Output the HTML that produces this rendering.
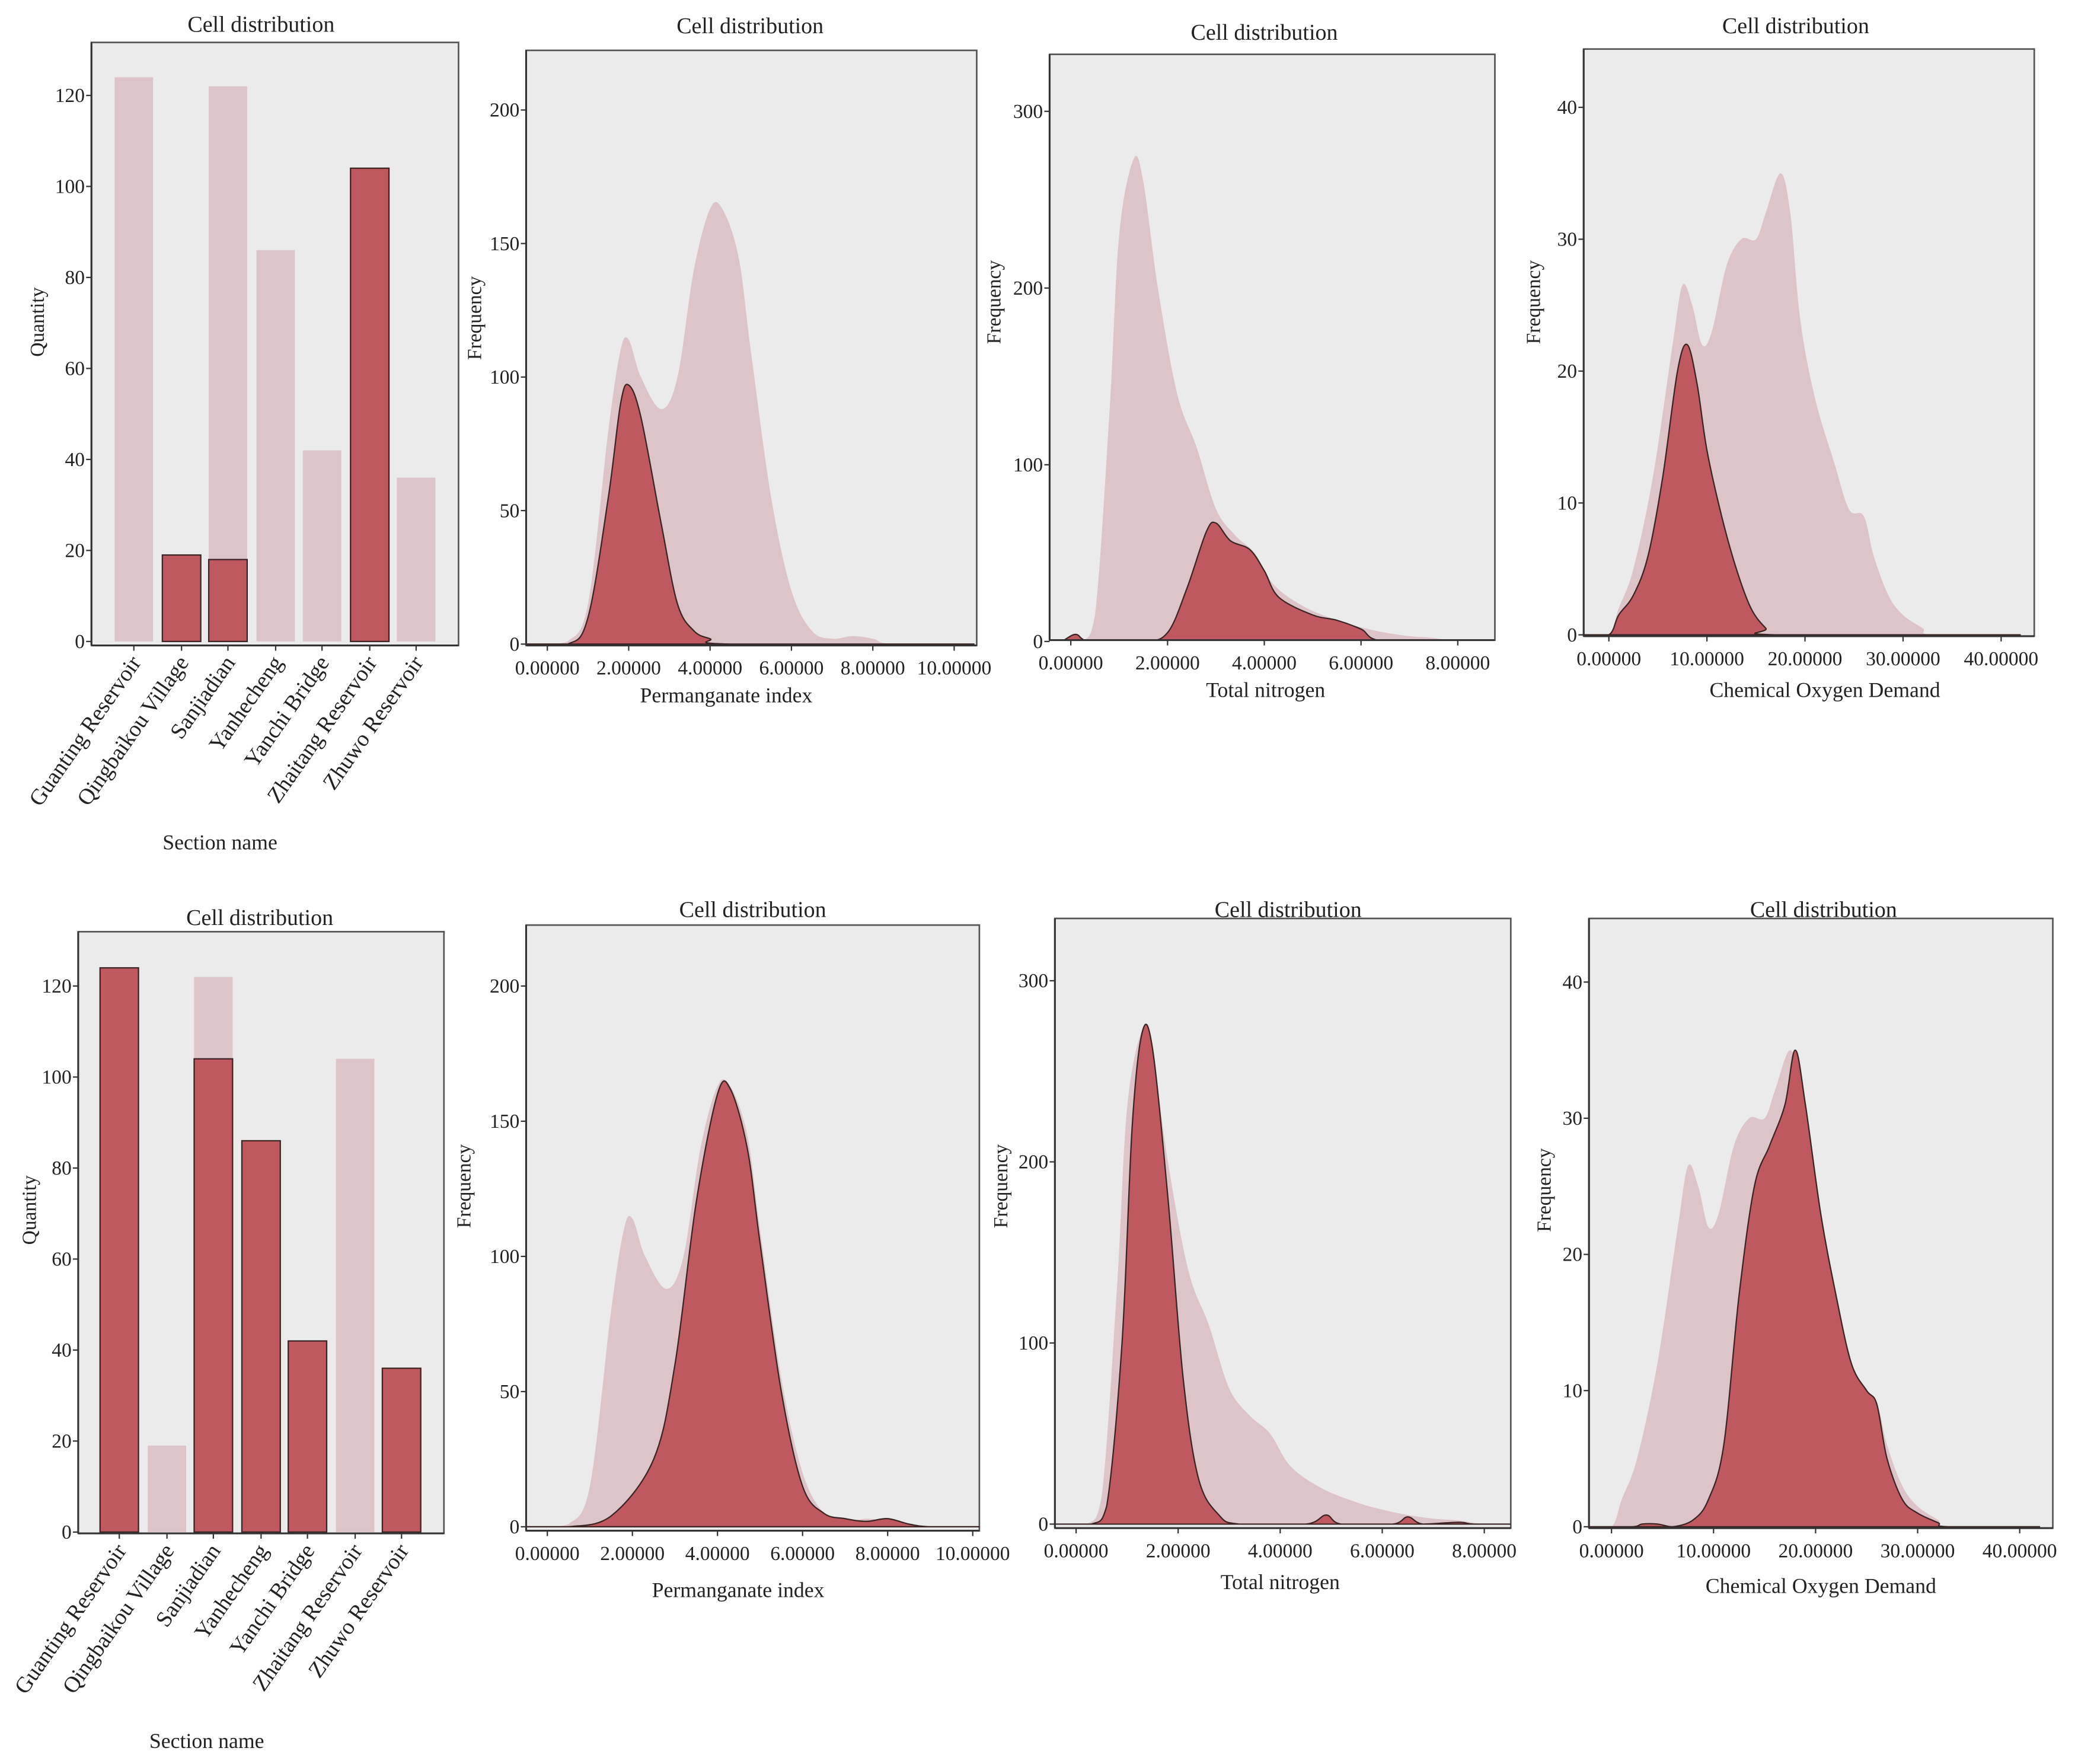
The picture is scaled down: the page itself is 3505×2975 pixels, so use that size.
<!DOCTYPE html>
<html><head><meta charset="utf-8">
<style>
html,body{margin:0;padding:0;background:#fff;}
svg{display:block;}
text{font-family:"Liberation Serif",serif;fill:#222;}
</style></head>
<body>
<svg id="chart" width="3505" height="2975" viewBox="0 0 1568 1331" preserveAspectRatio="none" xmlns="http://www.w3.org/2000/svg"></svg>
<script>
// ---------- data ----------
const sections = ["Guanting Reservoir","Qingbaikou Village","Sanjiadian","Yanhecheng","Yanchi Bridge","Zhaitang Reservoir","Zhuwo Reservoir"];
const totalCounts = [124,19,122,86,42,104,36];
const topCellCounts = [0,19,18,0,0,104,0];
const bottomCellCounts = [124,0,104,86,42,0,36];
const quantityTicks = [0,20,40,60,80,100,120];

const pmX = [-0.5,0,0.5,1,1.5,1.8,2.0,2.3,2.8,3.2,3.6,4.0,4.3,4.7,5.0,5.5,6.0,6.5,7.0,7.5,8.0,8.5,10.5];
const pmTotal = [0,0,1,15,80,110,114,100,88,100,140,163,163,145,110,55,20,5,2,3,2,0,0];
const pmX2 = [-0.5,0.5,1.0,1.5,1.8,2.0,2.3,2.8,3.2,3.6,4.0,4.5,10.5];
const pmTopCell = [0,0,10,55,90,97,85,45,15,5,2,0,0];
const pmX3 = [-0.5,0.5,1.5,2.5,3.0,3.5,4.0,4.3,4.7,5.0,5.5,6.0,6.5,7.0,7.5,8.0,8.5,9.0,10.5];
const pmBottomCell = [0,0,4,25,60,120,160,162,140,105,50,15,5,3,2,3,1,0,0];
const pmTicks = [0,2,4,6,8,10];
const pmYTicks = [0,50,100,150,200];

const tnX = [-0.45,0.2,0.5,0.8,1.0,1.3,1.5,1.8,2.2,2.6,3.0,3.4,3.8,4.2,4.8,5.5,6.0,6.5,7.0,7.5,8.0,8.6];
const tnTotal = [0,0,15,130,230,273,260,200,140,110,75,60,50,32,20,12,8,5,3,2,0,0];
const tnX2 = [-0.45,-0.2,0.1,0.4,1.5,2.0,2.4,2.8,3.0,3.3,3.7,4.0,4.3,5.0,5.5,6.0,6.5,8.6];
const tnTopCell = [0,0,4,0,0,5,30,62,67,57,52,40,25,15,12,7,0,0];
const tnX3 = [-0.45,0.3,0.6,0.9,1.1,1.3,1.5,1.8,2.1,2.4,2.8,3.2,4.5,4.9,5.2,6.2,6.5,6.8,7.5,7.8,8.6];
const tnBottomCell = [0,0,10,100,220,272,262,180,80,25,5,0,0,5,0,0,4,0,1,0,0];
const tnTicks = [0,2,4,6,8];
const tnYTicks = [0,100,200,300];

const codX = [-2.5,0,1,2.5,4.5,6.5,7.5,8.5,9.5,10.5,12,13.5,15,16,17.5,18.5,19.5,21,23,24.5,26,27,28.5,30,32,33,42];
const codTotal = [0,0,2,5,12,22,26.5,25,22,23,28,30,30,32,35,32,24,18,13,9.5,9,6,3,1.5,0.5,0,0];
const codX2 = [-2.5,0,1,2.5,4,5.5,7,8,9,10,11.5,13,14.5,16,17,42];
const codTopCell = [0,0,1.5,3,6,12,20,22,19,14,9,5,2,0.5,0,0];
const codX3 = [-2.5,2,3,4.5,6,8,9.5,11,12.5,14,15.5,17,18,19,20.5,22,23.5,25,26,27,28.5,30,32,33,42];
const codBottomCell = [0,0,0.2,0.2,0,0.5,2,6,17,25,28,31,35,31,23,17,12,10,9,5,2,1,0.3,0,0];
const codTicks = [0,10,20,30,40];
const codYTicks = [0,10,20,30,40];

// ---------- drawing ----------
const NS="http://www.w3.org/2000/svg";
const svg=document.getElementById('chart');
function mk(tag,attrs,parent){const e=document.createElementNS(NS,tag);for(const k in attrs)e.setAttribute(k,attrs[k]);(parent||svg).appendChild(e);return e;}
function txt(s,x,y,size,anchor,rot,parent){
  const t=mk('text',{x:x,y:y,'font-size':size,'text-anchor':anchor||'middle'},parent);
  if(rot)t.setAttribute('transform','rotate('+rot+' '+x+' '+y+')');
  t.textContent=s;return t;}
const LIGHT="#dcc4c8",DARK="#bf595f",EDGE="#3a2424",BG="#ebebeb";

function lin(v0,p0,v1,p1){return v=>p0+(v-v0)*(p1-p0)/(v1-v0);}

function frame(P,name){
  const g=mk('g',{});
  
  
  const r=mk('rect',{x:P.L,y:P.T,width:P.R-P.L,height:P.B-P.T,fill:BG,stroke:'#555','stroke-width':1.2},g);
  
  
  return g;}

function title(s,x,y){const t=txt(s,x,y,17,'middle');
  
  }

function smoothPath(pts){
  let d='M'+pts[0][0]+','+pts[0][1];
  for(let i=0;i<pts.length-1;i++){
    const p0=pts[Math.max(0,i-1)],p1=pts[i],p2=pts[i+1],p3=pts[Math.min(pts.length-1,i+2)];
    const c1x=p1[0]+(p2[0]-p0[0])/6,c1y=p1[1]+(p2[1]-p0[1])/6;
    const c2x=p2[0]-(p3[0]-p1[0])/6,c2y=p2[1]-(p3[1]-p1[1])/6;
    const base=pts[0][1];
    d+=' C'+c1x+','+Math.min(c1y,base)+' '+c2x+','+Math.min(c2y,base)+' '+p2[0]+','+p2[1];
  }
  return d;}

function density(P,sx,sy,xs,ys,fill,stroke,g,name){
  const pts=xs.map((x,i)=>[Math.max(P.L,Math.min(P.R,sx(x))),Math.min(sy(0),sy(ys[i]))]);
  let d=smoothPath(pts)+' L'+pts[pts.length-1][0]+','+sy(0)+' L'+pts[0][0]+','+sy(0)+' Z';
  const p=mk('path',{d:d,fill:fill,stroke:stroke||'none','stroke-width':stroke?1:0},g);
  
  
}

function densityPanel(P,xmap,ymap,xt,yt,series,labels){
  const g=frame(P,labels.name);
  const sx=lin(...xmap),sy=lin(...ymap);
  const cp=mk('clipPath',{id:labels.name+'-clip'},g);
  mk('rect',{x:P.L,y:P.T,width:P.R-P.L,height:P.B-P.T},cp);
  const inner=mk('g',{'clip-path':'url(#'+labels.name+'-clip)'},g);
  series.forEach(s=>density(P,sx,sy,s.x,s.y,s.fill,s.stroke,inner,s.name));
  mk('line',{x1:P.L,y1:P.B,x2:P.R,y2:P.B,stroke:'#333','stroke-width':1.4},g);
  mk('line',{x1:P.L,y1:P.T,x2:P.L,y2:P.B,stroke:'#333','stroke-width':1.4},g);
  yt.forEach(v=>{const y=sy(v);
    mk('line',{x1:P.L-4,y1:y,x2:P.L,y2:y,stroke:'#333'},g);
    const t=txt(String(v),P.L-5,y+5,15,'end',0,g);
    
    });
  xt.forEach(v=>{const x=sx(v);
    mk('line',{x1:x,y1:P.B,x2:x,y2:P.B+4,stroke:'#333'},g);
    const t=txt(v.toFixed(5),x,P.B+22,15,'middle',0,g);
    
    });
  const xt2=txt(labels.x,labels.xx,labels.xy,16,'middle',0,g);
  
  
  const yt2=txt('Frequency',labels.yx,labels.yy,15,'middle',-90,g);
  
  
  title('Cell distribution',labels.tx,labels.ty);
}

function barPanel(P,y0px,y120px,centers,cell,lab){
  const g=frame(P,lab.name);
  const sy=lin(0,y0px,120,y120px);
  const w=29;
  sections.forEach((s,i)=>{
    const b=mk('rect',{x:centers[i]-w/2,y:sy(totalCounts[i]),width:w,height:sy(0)-sy(totalCounts[i]),fill:LIGHT},g);
    
    
    if(cell[i]>0){
      const c=mk('rect',{x:centers[i]-w/2,y:sy(cell[i]),width:w,height:sy(0)-sy(cell[i]),fill:DARK,stroke:EDGE,'stroke-width':1},g);
      
      
    }
    mk('line',{x1:centers[i],y1:P.B,x2:centers[i],y2:P.B+4,stroke:'#333'},g);
    const t=txt(s,centers[i]+6,P.B+13,17,'end',-55,g);
    
    
  });
  mk('line',{x1:P.L,y1:P.B,x2:P.R,y2:P.B,stroke:'#333','stroke-width':1.4},g);
  mk('line',{x1:P.L,y1:P.T,x2:P.L,y2:P.B,stroke:'#333','stroke-width':1.4},g);
  quantityTicks.forEach(v=>{const y=sy(v);
    mk('line',{x1:P.L-4,y1:y,x2:P.L,y2:y,stroke:'#333'},g);
    const t=txt(String(v),P.L-5,y+5,15,'end',0,g);
    
    });
  const a=txt('Quantity',lab.yx,lab.yy,15,'middle',-90,g);
  
  
  const b=txt('Section name',lab.xx,lab.xy,16,'middle',0,g);
  
  
  title('Cell distribution',lab.tx,lab.ty);
}

// top row
barPanel({L:69,T:32,R:346,B:487},484,72,[101,137,172,208,243,279,314],topCellCounts,
  {name:'bar-panel-top',yx:33,yy:243,xx:166,xy:641,tx:197,ty:24});
densityPanel({L:397,T:38,R:737,B:487},[0,413,10,720],[0,486,200,83],pmTicks,pmYTicks,
  [{x:pmX,y:pmTotal,fill:LIGHT,name:'density-total'},{x:pmX2,y:pmTopCell,fill:DARK,stroke:EDGE,name:'density-cell'}],
  {name:'permanganate-top',x:'Permanganate index',xx:548,xy:530,yx:363,yy:240,tx:566,ty:25});
densityPanel({L:792,T:41,R:1128,B:483},[0,808,8,1100],[0,484,300,84],tnTicks,tnYTicks,
  [{x:tnX,y:tnTotal,fill:LIGHT,name:'density-total'},{x:tnX2,y:tnTopCell,fill:DARK,stroke:EDGE,name:'density-cell'}],
  {name:'nitrogen-top',x:'Total nitrogen',xx:955,xy:526,yx:755,yy:228,tx:954,ty:30});
densityPanel({L:1195,T:37,R:1535,B:480},[0,1214,40,1510],[0,479,40,81],codTicks,codYTicks,
  [{x:codX,y:codTotal,fill:LIGHT,name:'density-total'},{x:codX2,y:codTopCell,fill:DARK,stroke:EDGE,name:'density-cell'}],
  {name:'cod-top',x:'Chemical Oxygen Demand',xx:1377,xy:526,yx:1162,yy:228,tx:1355,ty:25});

// bottom row
barPanel({L:59,T:703,R:335,B:1157},1156,744,[90,126,161,197,232,268,303],bottomCellCounts,
  {name:'bar-panel-bottom',yx:27,yy:913,xx:156,xy:1319,tx:196,ty:698});
densityPanel({L:397,T:698,R:739,B:1155},[0,413,10,734],[0,1152,200,744],pmTicks,pmYTicks,
  [{x:pmX,y:pmTotal,fill:LIGHT,name:'density-total'},{x:pmX3,y:pmBottomCell,fill:DARK,stroke:EDGE,name:'density-cell'}],
  {name:'permanganate-bottom',x:'Permanganate index',xx:557,xy:1205,yx:355,yy:895,tx:568,ty:692});
densityPanel({L:796,T:693,R:1140,B:1153},[0,812,8,1120],[0,1150,300,740],tnTicks,tnYTicks,
  [{x:tnX,y:tnTotal,fill:LIGHT,name:'density-total'},{x:tnX3,y:tnBottomCell,fill:DARK,stroke:EDGE,name:'density-cell'}],
  {name:'nitrogen-bottom',x:'Total nitrogen',xx:966,xy:1199,yx:760,yy:895,tx:972,ty:692});
densityPanel({L:1199,T:693,R:1549,B:1153},[0,1216,40,1524],[0,1152,40,741],codTicks,codYTicks,
  [{x:codX,y:codTotal,fill:LIGHT,name:'density-total'},{x:codX3,y:codBottomCell,fill:DARK,stroke:EDGE,name:'density-cell'}],
  {name:'cod-bottom',x:'Chemical Oxygen Demand',xx:1374,xy:1202,yx:1170,yy:898,tx:1376,ty:692});
</script>
</body></html>
